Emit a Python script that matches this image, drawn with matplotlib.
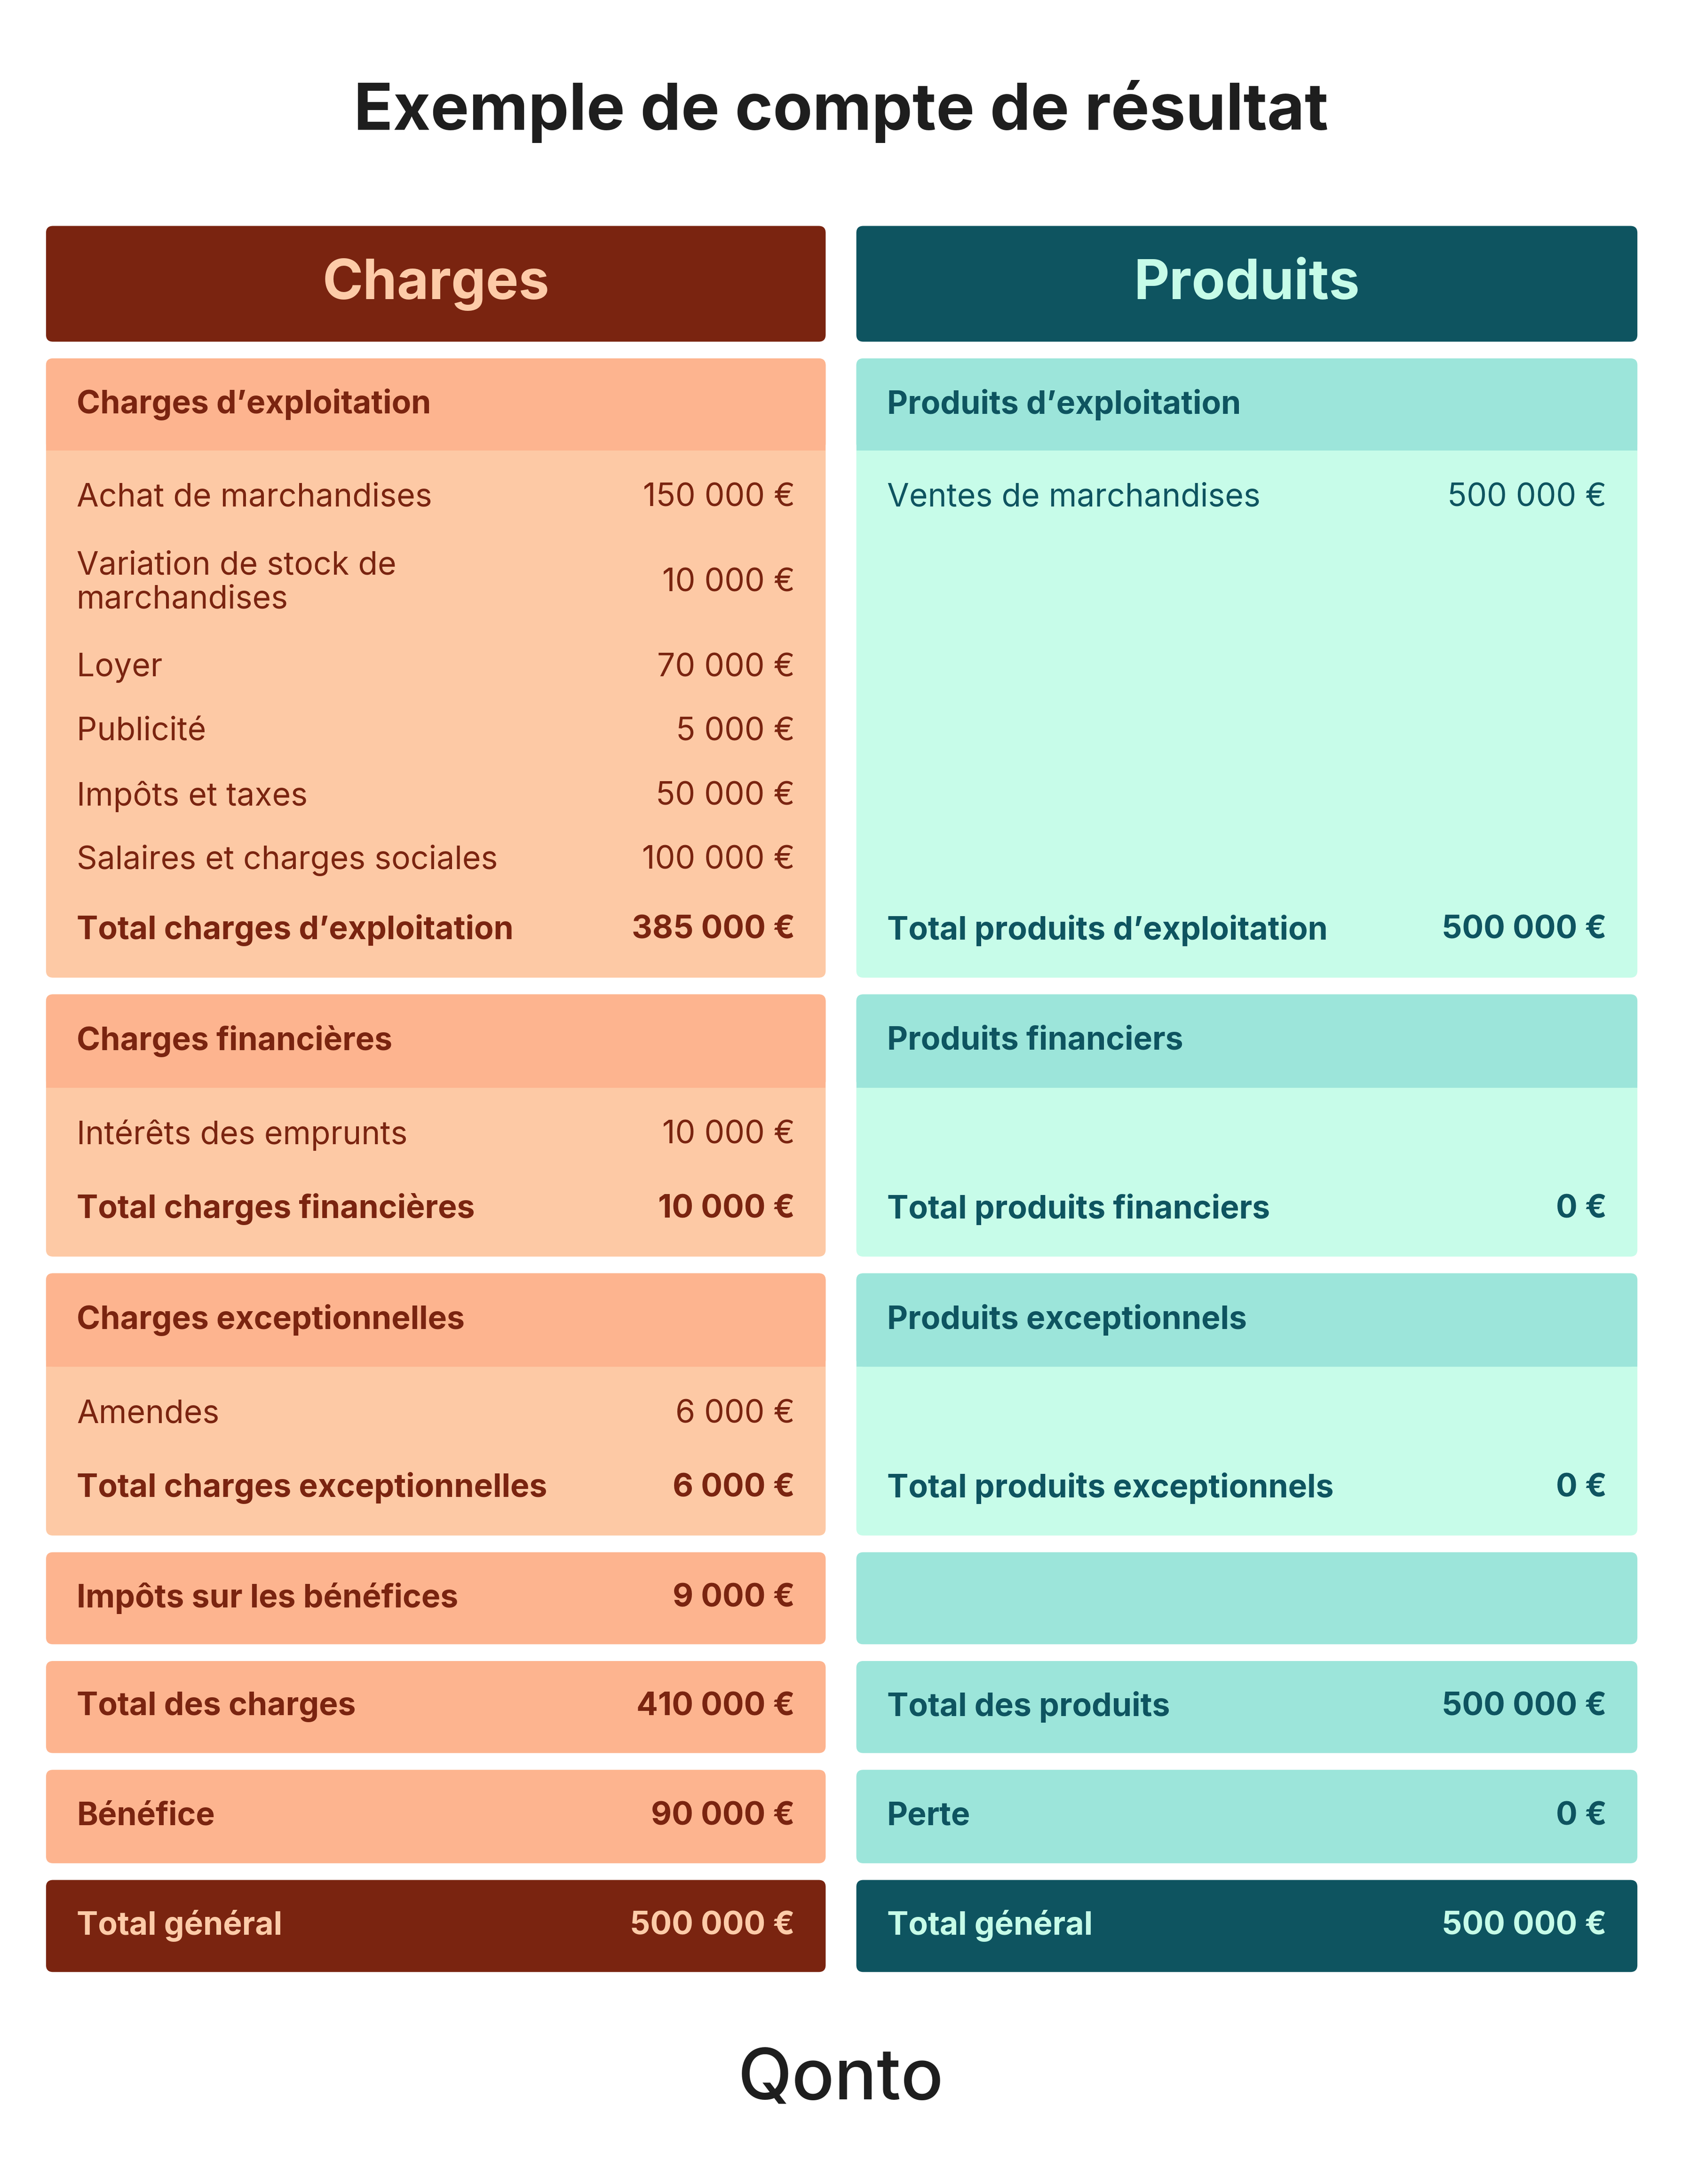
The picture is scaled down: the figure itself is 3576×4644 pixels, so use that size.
import matplotlib.pyplot as plt
from matplotlib.patches import FancyBboxPatch

# données
charges_expl_labels = ["Achat de marchandises", "Variation de stock de\nmarchandises", "Loyer",
                       "Publicité", "Impôts et taxes", "Salaires et charges sociales"]
charges_expl_values = ["150 000 €", "10 000 €", "70 000 €", "5 000 €", "50 000 €", "100 000 €"]
charges_fin_labels = ["Intérêts des emprunts"]
charges_fin_values = ["10 000 €"]
charges_exc_labels = ["Amendes"]
charges_exc_values = ["6 000 €"]
produits_expl_labels = ["Ventes de marchandises"]
produits_expl_values = ["500 000 €"]
sections_titles_c = ["Charges d’exploitation", "Charges financières", "Charges exceptionnelles"]
sections_titles_p = ["Produits d’exploitation", "Produits financiers", "Produits exceptionnels"]
totals_c = [("Total charges d’exploitation", "385 000 €"), ("Total charges financières", "10 000 €"),
            ("Total charges exceptionnelles", "6 000 €")]
totals_p = [("Total produits d’exploitation", "500 000 €"), ("Total produits financiers", "0 €"),
            ("Total produits exceptionnels", "0 €")]
bottom_c = [("Impôts sur les bénéfices", "9 000 €"), ("Total des charges", "410 000 €"),
            ("Bénéfice", "90 000 €"), ("Total général", "500 000 €")]
bottom_p = [("", ""), ("Total des produits", "500 000 €"), ("Perte", "0 €"), ("Total général", "500 000 €")]

FONT = "Inter"
C_DARK, C_HEAD, C_BODY, C_LIGHT = "#7A2410", "#FDB48F", "#FDC9A5", "#FDCBA8"
P_DARK, P_HEAD, P_BODY, P_LIGHT = "#0E5460", "#9CE5DA", "#C7FCE9", "#C6FCE8"

fig = plt.figure(figsize=(11.92, 15.48), dpi=300)
ax = fig.add_axes([0, 0, 1, 1])
ax.set_xlim(0, 1206)
ax.set_ylim(1566, 0)
ax.axis("off")
fig.patch.set_facecolor("white")

FS = 16.3


def box(x0, y0, x1, y1, color, r=5):
    ax.add_patch(FancyBboxPatch((x0 + r, y0 + r), x1 - x0 - 2 * r, y1 - y0 - 2 * r,
                                boxstyle=f"round,pad={r}", fc=color, ec="none"))


def rect(x0, y0, x1, y1, color):
    ax.add_patch(plt.Rectangle((x0, y0), x1 - x0, y1 - y0, fc=color, ec="none"))


def row(x0, x1, y, label, value, color, bold=False):
    w = "bold" if bold else "normal"
    ax.text(x0 + 22, y, label, fontsize=FS, color=color, fontweight=w, family=FONT,
            va="center", ha="left", linespacing=1.15)
    ax.text(x1 - 22, y, value, fontsize=FS, color=color, fontweight=w, family=FONT,
            va="center", ha="right")


ax.text(603, 80, "Exemple de compte de résultat", fontsize=33, fontweight="bold",
        family=FONT, color="#1E1E1E", ha="center", va="center")

sections = [(257, 323, 701), (713, 780, 901), (913, 980, 1101)]
bottom_ys = [(1113, 1179), (1191, 1257), (1269, 1336), (1348, 1414)]

for side in range(2):
    if side == 0:
        x0, x1 = 33, 592
        dark, head, body, light = C_DARK, C_HEAD, C_BODY, C_LIGHT
        title, titles, totals, bottom = "Charges", sections_titles_c, totals_c, bottom_c
        rows = [(charges_expl_labels, charges_expl_values), (charges_fin_labels, charges_fin_values),
                (charges_exc_labels, charges_exc_values)]
    else:
        x0, x1 = 614, 1174
        dark, head, body, light = P_DARK, P_HEAD, P_BODY, P_LIGHT
        title, titles, totals, bottom = "Produits", sections_titles_p, totals_p, bottom_p
        rows = [(produits_expl_labels, produits_expl_values), ([], []), ([], [])]
    box(x0, 162, x1, 245, dark)
    ax.text((x0 + x1) / 2, 204, title, fontsize=28, fontweight="bold", family=FONT,
            color=light, ha="center", va="center")
    for (ya, yb, yc), t, tot, (labs, vals) in zip(sections, titles, totals, rows):
        box(x0, ya, x1, yc, body)
        box(x0, ya, x1, yb, head)
        rect(x0, yb - 8, x1, yb, head)
        ax.text(x0 + 22, (ya + yb) / 2, t, fontsize=FS, fontweight="bold", family=FONT,
                color=dark, va="center")
        if ya == 257:
            ys = [357, 418, 479, 525, 571, 617]
        else:
            ys = [yb + 34]
        for y, l, v in zip(ys, labs, vals):
            row(x0, x1, y, l, v, dark)
        row(x0, x1, yc - 34, tot[0], tot[1], dark, bold=True)
    for i, ((ya, yb), (l, v)) in enumerate(zip(bottom_ys, bottom)):
        last = i == len(bottom_ys) - 1
        box(x0, ya, x1, yb, dark if last else head)
        row(x0, x1, (ya + yb) / 2, l, v, light if last else dark, bold=True)

ax.text(603, 1492, "Qonto", fontsize=36, fontweight="medium", family=FONT,
        color="#1E1E1E", ha="center", va="center")

fig.savefig("out.png", dpi=300, facecolor="white")
